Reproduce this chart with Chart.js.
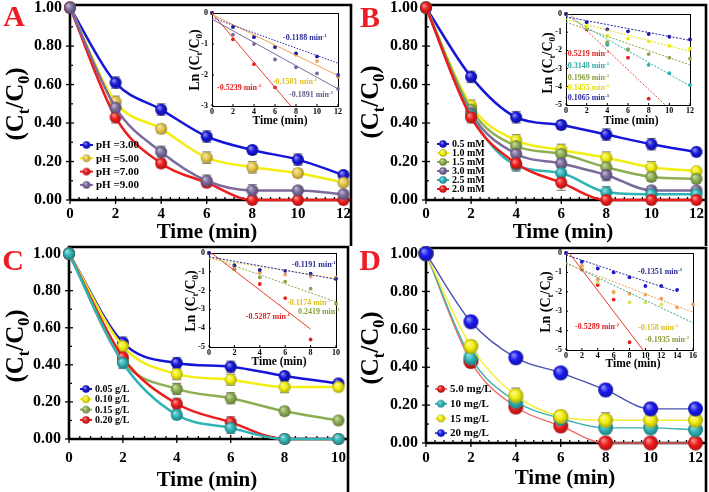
<!DOCTYPE html>
<html>
<head>
<meta charset="utf-8">
<script src="https://cdn.jsdelivr.net/npm/chart.js@4.4.0/dist/chart.umd.min.js"></script>
<style>
  html, body { margin: 0; padding: 0; background: #fff; }
  #wrap { position: relative; width: 709px; height: 492px; overflow: hidden; background: #fff; }
  #wrap canvas { position: absolute; }
</style>
</head>
<body>
<div id="wrap"></div>
<script>
'use strict';

/* ---- A: effect of pH ---- */
const timeA = [0, 2, 4, 6, 8, 10, 12];
const labelsA = ['pH =3.00', 'pH =5.00', 'pH =7.00', 'pH =9.00'];
const ph3 = [1.00, 0.61, 0.47, 0.33, 0.26, 0.21, 0.13];
const ph5 = [1.00, 0.51, 0.37, 0.22, 0.17, 0.14, 0.09];
const ph7 = [1.00, 0.43, 0.19, 0.09, 0.00, 0.00, 0.00];
const ph9 = [1.00, 0.48, 0.25, 0.10, 0.05, 0.05, 0.03];
const ph3Err = [0, 0.03, 0.03, 0.03, 0.02, 0.03, 0.01];
const ph5Err = [0, 0.03, 0.02, 0.03, 0.03, 0.02, 0.01];
const ph7Err = [0, 0.03, 0.02, 0.02, 0, 0, 0];
const ph9Err = [0, 0.03, 0.03, 0.03, 0.03, 0.02, 0.01];

/* ---- B: oxidant dose ---- */
const timeB = [0, 2, 4, 6, 8, 10, 12];
const labelsB = ['0.5 mM', '1.0 mM', '1.5 mM', '3.0 mM', '2.5 mM', '2.0 mM'];
const mm05 = [1.00, 0.64, 0.43, 0.39, 0.34, 0.29, 0.25];
const mm10 = [1.00, 0.49, 0.31, 0.26, 0.22, 0.17, 0.15];
const mm15 = [1.00, 0.47, 0.28, 0.24, 0.17, 0.12, 0.11];
const mm30 = [1.00, 0.45, 0.24, 0.19, 0.13, 0.05, 0.05];
const mm25 = [1.00, 0.44, 0.18, 0.14, 0.04, 0.03, 0.03];
const mm20 = [1.00, 0.43, 0.19, 0.09, 0.00, 0.00, 0.00];
const mm05Err = [0, 0.03, 0.03, 0.02, 0.03, 0.03, 0.01];
const mm10Err = [0, 0.03, 0.03, 0.03, 0.03, 0.03, 0.01];
const mm15Err = [0, 0.03, 0.03, 0.03, 0.03, 0.02, 0.02];
const mm30Err = [0, 0.03, 0.03, 0.02, 0.03, 0.02, 0.01];
const mm25Err = [0, 0.03, 0.03, 0.03, 0.03, 0.02, 0.01];
const mm20Err = [0, 0.03, 0.03, 0.04, 0, 0, 0];

/* ---- C: catalyst dose ---- */
const timeC = [0, 2, 4, 6, 8, 10];
const labelsC = ['0.05 g/L', '0.10 g/L', '0.15 g/L', '0.20 g/L'];
const gl005 = [1.00, 0.52, 0.41, 0.39, 0.34, 0.30];
const gl010 = [1.00, 0.50, 0.35, 0.32, 0.28, 0.28];
const gl015 = [1.00, 0.42, 0.27, 0.22, 0.15, 0.10];
const gl020 = [1.00, 0.44, 0.19, 0.09, 0.00, 0.00];
const gl025 = [1.00, 0.41, 0.13, 0.06, 0.00, 0.00];
const gl005Err = [0, 0.03, 0.03, 0.03, 0.02, 0.01];
const gl010Err = [0, 0.03, 0.03, 0.03, 0.03, 0.01];
const gl015Err = [0, 0.02, 0.03, 0.03, 0.02, 0.01];
const gl020Err = [0, 0.03, 0.03, 0.03, 0, 0];
const gl025Err = [0, 0.03, 0.02, 0.03, 0, 0];

/* ---- D: initial concentration ---- */
const timeD = [0, 2, 4, 6, 8, 10, 12];
const labelsD = ['5.0 mg/L', '10 mg/L', '15 mg/L', '20 mg/L'];
const mgl5 = [1.00, 0.43, 0.19, 0.09, 0.00, 0.00, 0.00];
const mgl10 = [1.00, 0.45, 0.22, 0.13, 0.08, 0.08, 0.07];
const mgl15 = [1.00, 0.51, 0.25, 0.14, 0.12, 0.12, 0.12];
const mgl20 = [1.00, 0.64, 0.45, 0.37, 0.28, 0.18, 0.18];
const mgl5Err = [0, 0.03, 0.03, 0.03, 0, 0, 0];
const mgl10Err = [0, 0.03, 0.03, 0.03, 0.03, 0.03, 0.02];
const mgl15Err = [0, 0.03, 0.04, 0.03, 0.04, 0.03, 0.02];
const mgl20Err = [0, 0.03, 0.03, 0.02, 0.03, 0.03, 0.01];

/* ---- insets: Ln(Ct/C0) vs time and linear fits [x, y] ---- */
const lnTimeA = [0, 2, 4, 6, 8, 10, 12];
const lnPh3 = [0, -0.45, -0.78, -1.10, -1.30, -1.40, -2.00];
const lnPh5 = [0, -0.45, -0.75, -1.10, -1.35, -1.55, -2.05];
const lnPh9 = [0, -0.70, -1.00, -1.50, -1.75, -1.95, -2.45];
const lnPh7 = [0, -0.85, -1.65, -2.40, null, null, null];
const fitPh3 = [[0, -0.15], [12, -1.62]];
const fitPh5 = [[0, -0.05], [12, -2.02]];
const fitPh9 = [[0, -0.20], [12, -2.45]];
const fitPh7 = [[0, 0.00], [7.5, -3.00]];
const ratesA = ['-0.1188', '-0.1581', '-0.1891', '-0.5239'];

const lnTimeB = [0, 2, 4, 6, 8, 10, 12];
const lnMm05 = [0, -0.45, -0.85, -0.95, -1.10, -1.25, -1.40];
const lnMm10 = [0, -0.70, -1.20, -1.35, -1.50, -1.75, -1.90];
const lnMm15 = [0, -0.80, -1.55, -1.95, -2.20, -2.40, -2.45];
const lnMm25 = [0, -0.80, -1.70, -1.95, -2.80, -3.25, -3.90];
const lnMm20 = [0, -0.85, -1.65, -2.40, -4.65, null, null];
const fitMm05 = [[0, -0.15], [12, -1.45]];
const fitMm10 = [[0, -0.30], [12, -2.05]];
const fitMm15 = [[0, -0.45], [12, -2.80]];
const fitMm25 = [[0, -0.10], [12, -3.95]];
const fitMm20 = [[0.3, 0.00], [9.6, -5.00]];
const ratesB = ['-0.5219', '-0.3148', '-0.1969', '-0.1455', '-0.1065'];

const lnTimeC = [0, 2, 4, 6, 8, 10];
const lnGl005 = [0, -0.65, -0.90, -0.95, -1.10, -1.38];
const lnGl010 = [0, -0.70, -1.05, -1.15, -1.25, -1.30];
const lnGl015 = [0, -0.85, -1.30, -1.52, -1.90, -2.70];
const lnGl020 = [0, -0.85, -1.65, -2.40, -4.60, null];
const fitGl005 = [[0, -0.20], [10, -1.40]];
const fitGl010 = [[0, -0.30], [10, -1.35]];
const fitGl015 = [[0, -0.20], [10, -2.60]];
const fitGl020 = [[0.2, 0.00], [8, -4.05]];
const ratesC = ['-0.1191', '-0.1174', '0.2419', '-0.5287'];

const lnTimeD = [0, 2, 4, 6, 8, 10, 12, 14, 16];
const lnMgl20 = [0, -0.45, -0.80, -1.00, -1.25, -1.70, -1.70, -1.90, null];
const lnMgl15 = [0, -0.65, -1.35, -2.00, -2.10, -2.15, -2.35, -2.80, -2.65];
const lnMgl10 = [0, -0.75, -1.50, -2.05, -2.55, -2.55, -2.65, null, null];
const lnMgl5 = [0, -0.85, -1.65, -2.40, -4.60, null, null, null, null];
const fitMgl20 = [[0, -0.10], [14, -2.00]];
const fitMgl15 = [[0, -0.55], [16, -3.05]];
const fitMgl10 = [[0, -0.50], [16, -3.60]];
const fitMgl5 = [[0.4, 0.00], [9.7, -5.00]];
const ratesD = ['-0.1351', '-0.5289', '-0.158', '-0.1935'];

const FONT = '"Liberation Serif", "Times New Roman", serif';
const INK = '#000';
const ERR_COLOR = '#8d8d8d';
const BLUE = '#1616d8', YELLOW = '#f2ee10', RED = '#ee1b1b', PURPLE = '#7b6a9c';
const GREEN = '#8cae50', TEAL = '#2eb4b6', GOLD = '#e8c84a';

const wrap = document.getElementById('wrap');

function shade(hex, f) {
  const n = parseInt(hex.slice(1), 16);
  const t = f < 0 ? 0 : 255, a = Math.abs(f);
  const mix = c => Math.round(c + (t - c) * a);
  return 'rgb(' + mix(n >> 16) + ',' + mix((n >> 8) & 255) + ',' + mix(n & 255) + ')';
}

/* shaded ball used as point style */
function sphere(color, r) {
  const c = document.createElement('canvas');
  const s = Math.ceil(r * 2 + 2);
  c.width = c.height = s;
  const ctx = c.getContext('2d');
  const m = s / 2;
  const g = ctx.createRadialGradient(m - r * 0.35, m - r * 0.4, r * 0.1, m, m, r);
  g.addColorStop(0, shade(color, 0.5));
  g.addColorStop(0.5, color);
  g.addColorStop(1, shade(color, -0.3));
  ctx.fillStyle = g;
  ctx.beginPath();
  ctx.arc(m, m, r, 0, Math.PI * 2);
  ctx.fill();
  return c;
}

function makeCanvas(rect) {
  const el = document.createElement('canvas');
  el.width = rect[2];
  el.height = rect[3];
  el.style.left = rect[0] + 'px';
  el.style.top = rect[1] + 'px';
  wrap.appendChild(el);
  return el;
}

/* text with sub (1) / superscript (-1) parts */
function richText(ctx, parts, x, y, size, opts) {
  opts = opts || {};
  ctx.save();
  ctx.translate(x, y);
  if (opts.rotate) ctx.rotate(-Math.PI / 2);
  const big = 'bold ' + size + 'px ' + FONT;
  const small = 'bold ' + Math.round(size * 0.65) + 'px ' + FONT;
  let w = 0;
  parts.forEach(p => { ctx.font = p[1] ? small : big; w += ctx.measureText(p[0]).width; });
  let cx = opts.align === 'left' ? 0 : -w / 2;
  ctx.textBaseline = 'middle';
  ctx.textAlign = 'left';
  ctx.fillStyle = opts.color || INK;
  parts.forEach(p => {
    ctx.font = p[1] ? small : big;
    ctx.fillText(p[0], cx, p[1] * size * 0.3);
    cx += ctx.measureText(p[0]).width;
  });
  ctx.restore();
}

function line(ctx, x1, y1, x2, y2) {
  ctx.beginPath();
  ctx.moveTo(x1, y1);
  ctx.lineTo(x2, y2);
  ctx.stroke();
}

/* one of the four C/C0 panels */
function mainPanel(cfg) {
  const [cl, ct, cw, ch] = cfg.canvas;
  const el = makeCanvas(cfg.canvas);
  const A = cfg.area, F = cfg.frame;
  const X = v => v - cl, Y = v => v - ct;

  const datasets = cfg.series.map((s, i) => ({
    label: s.label,
    data: cfg.time.map((t, j) => ({ x: t, y: s.values[j] })),
    err: s.err,
    inLegend: s.label !== null,
    marker: s.marker,
    borderColor: s.line,
    backgroundColor: s.marker,
    borderWidth: cfg.lineWidth,
    pointStyle: sphere(s.marker, cfg.radius),
    pointRadius: cfg.radius,
    cubicInterpolationMode: 'monotone',
    fill: false,
    clip: false,
    order: cfg.series.length - i
  }));

  const decor = {
    id: 'decor',
    beforeDatasetsDraw(chart) {
      const ctx = chart.ctx;
      const xs = chart.scales.x, ys = chart.scales.y;
      ctx.save();
      ctx.strokeStyle = INK;
      ctx.lineWidth = 1.3;
      for (let v = 0; v <= cfg.xMax + 1e-6; v += 0.4) {
        const px = xs.getPixelForValue(v);
        const major = Math.abs(v / 2 - Math.round(v / 2)) < 1e-6;
        line(ctx, px, Y(A.b) - (major ? 4 : 3), px, Y(A.b) + (major ? 4 : 0));
      }
      for (let v = 0; v <= 1 + 1e-6; v += 0.1) {
        const py = ys.getPixelForValue(v);
        const major = Math.abs(v / 0.2 - Math.round(v / 0.2)) < 1e-6;
        line(ctx, X(A.l) - (major ? 4 : 0), py, X(A.l) + (major ? 4 : 3), py);
      }
      ctx.lineWidth = 2.6;
      ctx.beginPath();
      ctx.moveTo(X(A.l), Y(A.b));
      ctx.lineTo(X(A.l), Y(F.top));
      ctx.lineTo(X(F.right), Y(F.top));
      ctx.lineTo(X(F.right), Y(F.bottom));
      ctx.moveTo(X(A.l), Y(A.b));
      ctx.lineTo(X(F.right), Y(A.b));
      ctx.stroke();

      /* error bars */
      ctx.strokeStyle = ERR_COLOR;
      ctx.lineWidth = 1.2;
      chart.data.datasets.forEach((ds, i) => {
        chart.getDatasetMeta(i).data.forEach((pt, j) => {
          const e = ds.err[j];
          if (!e) return;
          const v = ds.data[j].y;
          const y1 = ys.getPixelForValue(v + e), y2 = ys.getPixelForValue(v - e);
          line(ctx, pt.x, y1, pt.x, y2);
          line(ctx, pt.x - 4.5, y1, pt.x + 4.5, y1);
          line(ctx, pt.x - 4.5, y2, pt.x + 4.5, y2);
        });
      });
      ctx.restore();
    },
    afterDraw(chart) {
      const ctx = chart.ctx;
      ctx.save();
      /* panel letter */
      ctx.font = 'bold 30px ' + FONT;
      ctx.fillStyle = '#ee1c24';
      ctx.textAlign = 'center';
      ctx.textBaseline = 'middle';
      ctx.fillText(cfg.letter, X(cfg.letterPos[0]), Y(cfg.letterPos[1]));
      /* axis titles */
      ctx.font = 'bold 21px ' + FONT;
      ctx.fillStyle = INK;
      ctx.fillText('Time (min)', X(cfg.xTitle[0]), Y(cfg.xTitle[1]));
      richText(ctx, [['(C', 0], ['t', 1], ['/C', 0], ['0', 1], [')', 0]],
        X(cfg.yTitle[0]), Y(cfg.yTitle[1]), 25, { rotate: true });
      /* legend */
      const L = cfg.legend;
      let row = 0;
      chart.data.datasets.forEach(ds => {
        if (!ds.inLegend) return;
        const y = Y(L.y + row * L.gap);
        ctx.strokeStyle = ds.borderColor;
        ctx.lineWidth = 2;
        line(ctx, X(L.x), y, X(L.x + L.len), y);
        const ball = sphere(ds.marker, 3.8);
        ctx.drawImage(ball, X(L.x + L.len / 2) - ball.width / 2, y - ball.height / 2);
        ctx.font = 'bold ' + L.size + 'px ' + FONT;
        ctx.fillStyle = INK;
        ctx.textAlign = 'left';
        ctx.fillText(ds.label, X(L.x + L.len + 3), y + 0.5);
        row++;
      });
      ctx.restore();
    }
  };

  return new Chart(el, {
    type: 'line',
    data: { datasets },
    options: {
      responsive: false,
      animation: false,
      devicePixelRatio: 1,
      layout: { padding: { left: 0, bottom: 0, top: A.t - ct, right: cl + cw - A.r } },
      plugins: { legend: { display: false }, tooltip: { enabled: false } },
      scales: {
        x: {
          type: 'linear', min: 0, max: cfg.xMax,
          ticks: { stepSize: 2, autoSkip: false, maxRotation: 0, padding: cfg.xTickPad,
            color: INK, font: { family: FONT, size: 15, weight: 'bold' } },
          grid: { display: false, drawTicks: false },
          border: { display: false },
          afterFit: s => { s.height = ct + ch - A.b; }
        },
        y: {
          type: 'linear', min: 0, max: 1,
          ticks: { stepSize: 0.2, padding: 8, color: INK, callback: v => v.toFixed(2),
            font: { family: FONT, size: 16, weight: 'bold' } },
          grid: { display: false, drawTicks: false },
          border: { display: false },
          afterFit: s => { s.width = A.l - cl; }
        }
      }
    },
    plugins: [decor]
  });
}

/* one of the four Ln(Ct/C0) insets */
function insetPanel(cfg) {
  const [cl, ct, cw, ch] = cfg.canvas;
  const el = makeCanvas(cfg.canvas);
  const A = cfg.area;
  const X = v => v - cl, Y = v => v - ct;

  const datasets = [];
  cfg.fits.forEach(f => datasets.push({
    data: f.pts.map(p => ({ x: p[0], y: p[1] })),
    borderColor: f.color, borderWidth: 1, borderDash: f.dash || [2, 1.5],
    pointRadius: 0, fill: false
  }));
  cfg.points.forEach(p => datasets.push({
    data: cfg.time.map((t, i) => ({ x: t, y: p.values[i] })),
    showLine: false, pointRadius: 1.9, pointBorderWidth: 0,
    pointBackgroundColor: p.color, backgroundColor: p.color, clip: false
  }));

  const decor = {
    id: 'insetDecor',
    beforeDatasetsDraw(chart) {
      const ctx = chart.ctx;
      const xs = chart.scales.x, ys = chart.scales.y;
      ctx.save();
      ctx.strokeStyle = INK;
      ctx.lineWidth = 1;
      ctx.strokeRect(X(A.l) + 0.5, Y(A.t) + 0.5, A.r - A.l, A.b - A.t);
      xs.ticks.forEach(t => {
        const px = xs.getPixelForValue(t.value);
        line(ctx, px, Y(A.b), px, Y(A.b) - 2);
      });
      ys.ticks.forEach(t => {
        const py = ys.getPixelForValue(t.value);
        line(ctx, X(A.l), py, X(A.l) + 2, py);
      });
      ctx.restore();
    },
    afterDraw(chart) {
      const ctx = chart.ctx;
      const xs = chart.scales.x, ys = chart.scales.y;
      ctx.save();
      ctx.font = 'bold 11.5px ' + FONT;
      ctx.fillStyle = INK;
      ctx.textAlign = 'center';
      ctx.textBaseline = 'middle';
      ctx.fillText('Time (min)', X(cfg.xTitle[0]), Y(cfg.xTitle[1]));
      richText(ctx, [['Ln (C', 0], ['t', 1], ['/C', 0], ['0', 1], [')', 0]],
        X(cfg.yTitle[0]), Y(cfg.yTitle[1]), 14, { rotate: true });
      cfg.labels.forEach(l => {
        richText(ctx, [[l.text + ' min', 0], ['-1', -1]],
          xs.getPixelForValue(l.at[0]), ys.getPixelForValue(l.at[1]), 8,
          { align: 'left', color: l.color });
      });
      ctx.restore();
    }
  };

  return new Chart(el, {
    type: 'line',
    data: { datasets },
    options: {
      responsive: false,
      animation: false,
      devicePixelRatio: 1,
      layout: { padding: { left: 0, bottom: 0, top: A.t - ct, right: cl + cw - A.r } },
      plugins: { legend: { display: false }, tooltip: { enabled: false } },
      scales: {
        x: {
          type: 'linear', min: 0, max: cfg.xMax,
          ticks: { stepSize: 2, autoSkip: false, maxRotation: 0, padding: 1,
            color: INK, font: { family: FONT, size: 8, weight: 'bold' } },
          grid: { display: false, drawTicks: false },
          border: { display: false },
          afterFit: s => { s.height = ct + ch - A.b; }
        },
        y: {
          type: 'linear', min: cfg.yMin, max: 0,
          ticks: { stepSize: 1, padding: 4, color: INK,
            font: { family: FONT, size: 8, weight: 'bold' } },
          grid: { display: false, drawTicks: false },
          border: { display: false },
          afterFit: s => { s.width = A.l - cl; }
        }
      }
    },
    plugins: [decor]
  });
}

/* ---------- panels ---------- */
mainPanel({
  canvas: [0, -10, 356, 256],
  area: { l: 70, t: 7, r: 347, b: 200 },
  frame: { top: 5, right: 351, bottom: 246 },
  xMax: 12, time: timeA, xTickPad: 5,
  lineWidth: 2.5, radius: 6,
  series: [
    { label: labelsA[0], values: ph3, err: ph3Err, line: BLUE, marker: BLUE },
    { label: labelsA[1], values: ph5, err: ph5Err, line: YELLOW, marker: GOLD },
    { label: labelsA[2], values: ph7, err: ph7Err, line: RED, marker: RED },
    { label: labelsA[3], values: ph9, err: ph9Err, line: PURPLE, marker: PURPLE }
  ],
  letter: 'A', letterPos: [14, 18], yTitle: [17, 104], xTitle: [207, 233],
  legend: { x: 80, y: 145, gap: 13.3, len: 13, size: 11 }
});

mainPanel({
  canvas: [354, -10, 355, 256],
  area: { l: 426, t: 7, r: 702, b: 200 },
  frame: { top: 5, right: 706, bottom: 246 },
  xMax: 12, time: timeB, xTickPad: 5,
  lineWidth: 2.5, radius: 6,
  series: [
    { label: labelsB[0], values: mm05, err: mm05Err, line: BLUE, marker: BLUE },
    { label: labelsB[1], values: mm10, err: mm10Err, line: YELLOW, marker: YELLOW },
    { label: labelsB[2], values: mm15, err: mm15Err, line: GREEN, marker: GREEN },
    { label: labelsB[3], values: mm30, err: mm30Err, line: PURPLE, marker: PURPLE },
    { label: labelsB[4], values: mm25, err: mm25Err, line: TEAL, marker: TEAL },
    { label: labelsB[5], values: mm20, err: mm20Err, line: RED, marker: RED }
  ],
  letter: 'B', letterPos: [370, 19], yTitle: [372, 102], xTitle: [563, 233],
  legend: { x: 437, y: 144, gap: 9, len: 12, size: 10 }
});

mainPanel({
  canvas: [0, 236, 356, 256],
  area: { l: 69, t: 248, r: 344, b: 439 },
  frame: { top: 247, right: 348, bottom: 492 },
  xMax: 10, time: timeC, xTickPad: 10,
  lineWidth: 2.5, radius: 6,
  series: [
    { label: labelsC[0], values: gl005, err: gl005Err, line: BLUE, marker: BLUE },
    { label: labelsC[1], values: gl010, err: gl010Err, line: YELLOW, marker: YELLOW },
    { label: labelsC[2], values: gl015, err: gl015Err, line: GREEN, marker: GREEN },
    { label: labelsC[3], values: gl020, err: gl020Err, line: RED, marker: RED },
    { label: null, values: gl025, err: gl025Err, line: TEAL, marker: TEAL }
  ],
  letter: 'C', letterPos: [13, 262], yTitle: [17, 346], xTitle: [207, 481],
  legend: { x: 80, y: 389, gap: 10.3, len: 12, size: 10 }
});

mainPanel({
  canvas: [354, 236, 355, 256],
  area: { l: 426, t: 249, r: 702, b: 443 },
  frame: { top: 248, right: 706, bottom: 492 },
  xMax: 12, time: timeD, xTickPad: 6,
  lineWidth: 1.4, radius: 7.5,
  series: [
    { label: labelsD[0], values: mgl5, err: mgl5Err, line: '#f06a6a', marker: RED },
    { label: labelsD[1], values: mgl10, err: mgl10Err, line: '#36b0a8', marker: TEAL },
    { label: labelsD[2], values: mgl15, err: mgl15Err, line: '#f4ee30', marker: YELLOW },
    { label: labelsD[3], values: mgl20, err: mgl20Err, line: '#4c52b0', marker: '#1a1af0' }
  ],
  letter: 'D', letterPos: [370, 262], yTitle: [372, 348], xTitle: [565, 479],
  legend: { x: 435, y: 389, gap: 14.7, len: 12, size: 11 }
});

/* ---------- insets ---------- */
insetPanel({
  canvas: [178, 3, 170, 130],
  area: { l: 212, t: 13, r: 338, b: 106 },
  xMax: 12, yMin: -3, time: lnTimeA,
  fits: [
    { pts: fitPh3, color: '#2626a8', dash: [1.5, 1.5] },
    { pts: fitPh5, color: '#f0a050', dash: [] },
    { pts: fitPh9, color: '#7a6a9b', dash: [] },
    { pts: fitPh7, color: '#e83a2a', dash: [] }
  ],
  points: [
    { values: lnPh3, color: '#1a1ab0' },
    { values: lnPh5, color: '#f0a050' },
    { values: lnPh9, color: '#7a6a9b' },
    { values: lnPh7, color: '#e52020' }
  ],
  labels: [
    { text: ratesA[0], color: '#2a2a9a', at: [6.76, -0.81] },
    { text: ratesA[1], color: '#e0c020', at: [5.8, -2.23] },
    { text: ratesA[2], color: '#6a5a8a', at: [7.33, -2.65] },
    { text: ratesA[3], color: '#e02020', at: [0.48, -2.42] }
  ],
  xTitle: [280, 121], yTitle: [195, 60]
});

insetPanel({
  canvas: [532, 4, 170, 130],
  area: { l: 566, t: 14, r: 690, b: 105 },
  xMax: 12, yMin: -5, time: lnTimeB,
  fits: [
    { pts: fitMm05, color: '#2626a8' },
    { pts: fitMm10, color: '#e8e000' },
    { pts: fitMm15, color: '#8aa84a' },
    { pts: fitMm25, color: '#30b0b0' },
    { pts: fitMm20, color: '#e85040' }
  ],
  points: [
    { values: lnMm05, color: '#1a1aa0' },
    { values: lnMm10, color: '#f0f000' },
    { values: lnMm15, color: '#8aa84a' },
    { values: lnMm25, color: '#30b0b0' },
    { values: lnMm20, color: '#e52020' }
  ],
  labels: [
    { text: ratesB[0], color: '#e02020', at: [-0.1, -2.2] },
    { text: ratesB[1], color: '#30a8a8', at: [-0.1, -2.86] },
    { text: ratesB[2], color: '#8aa040', at: [-0.1, -3.52] },
    { text: ratesB[3], color: '#e8e000', at: [-0.1, -4.07] },
    { text: ratesB[4], color: '#2a2a9a', at: [-0.1, -4.62] }
  ],
  xTitle: [631, 121], yTitle: [548, 63]
});

insetPanel({
  canvas: [175, 243, 170, 130],
  area: { l: 209, t: 253, r: 336, b: 347 },
  xMax: 10, yMin: -5, time: lnTimeC,
  fits: [
    { pts: fitGl005, color: '#2626a8' },
    { pts: fitGl010, color: '#e8d040' },
    { pts: fitGl015, color: '#8aa84a' },
    { pts: fitGl020, color: '#e83a2a', dash: [] }
  ],
  points: [
    { values: lnGl005, color: '#1a1aa0' },
    { values: lnGl010, color: '#f0a060' },
    { values: lnGl015, color: '#8aa84a' },
    { values: lnGl020, color: '#e52020' }
  ],
  labels: [
    { text: ratesC[0], color: '#2a2a9a', at: [6.54, -0.64] },
    { text: ratesC[1], color: '#e0c020', at: [6.14, -2.66] },
    { text: ratesC[2], color: '#8aa040', at: [7.0, -3.14] },
    { text: ratesC[3], color: '#e02020', at: [2.9, -3.4] }
  ],
  xTitle: [279, 362], yTitle: [191, 301]
});

insetPanel({
  canvas: [532, 243, 170, 133],
  area: { l: 566, t: 253, r: 693, b: 350 },
  xMax: 16, yMin: -5, time: lnTimeD,
  fits: [
    { pts: fitMgl20, color: '#2626a8' },
    { pts: fitMgl15, color: '#e8a050' },
    { pts: fitMgl10, color: '#3aa890' },
    { pts: fitMgl5, color: '#e83a2a', dash: [] }
  ],
  points: [
    { values: lnMgl20, color: '#1a1ad0' },
    { values: lnMgl15, color: '#f0a060' },
    { values: lnMgl10, color: '#d8e060' },
    { values: lnMgl5, color: '#e52020' }
  ],
  labels: [
    { text: ratesD[0], color: '#2a2a9a', at: [9.07, -0.98] },
    { text: ratesD[1], color: '#e02020', at: [1.13, -3.81] },
    { text: ratesD[2], color: '#e0c020', at: [9.07, -3.87] },
    { text: ratesD[3], color: '#8a9a3a', at: [9.95, -4.48] }
  ],
  xTitle: [633, 364], yTitle: [546, 302]
});
</script>
</body>
</html>
